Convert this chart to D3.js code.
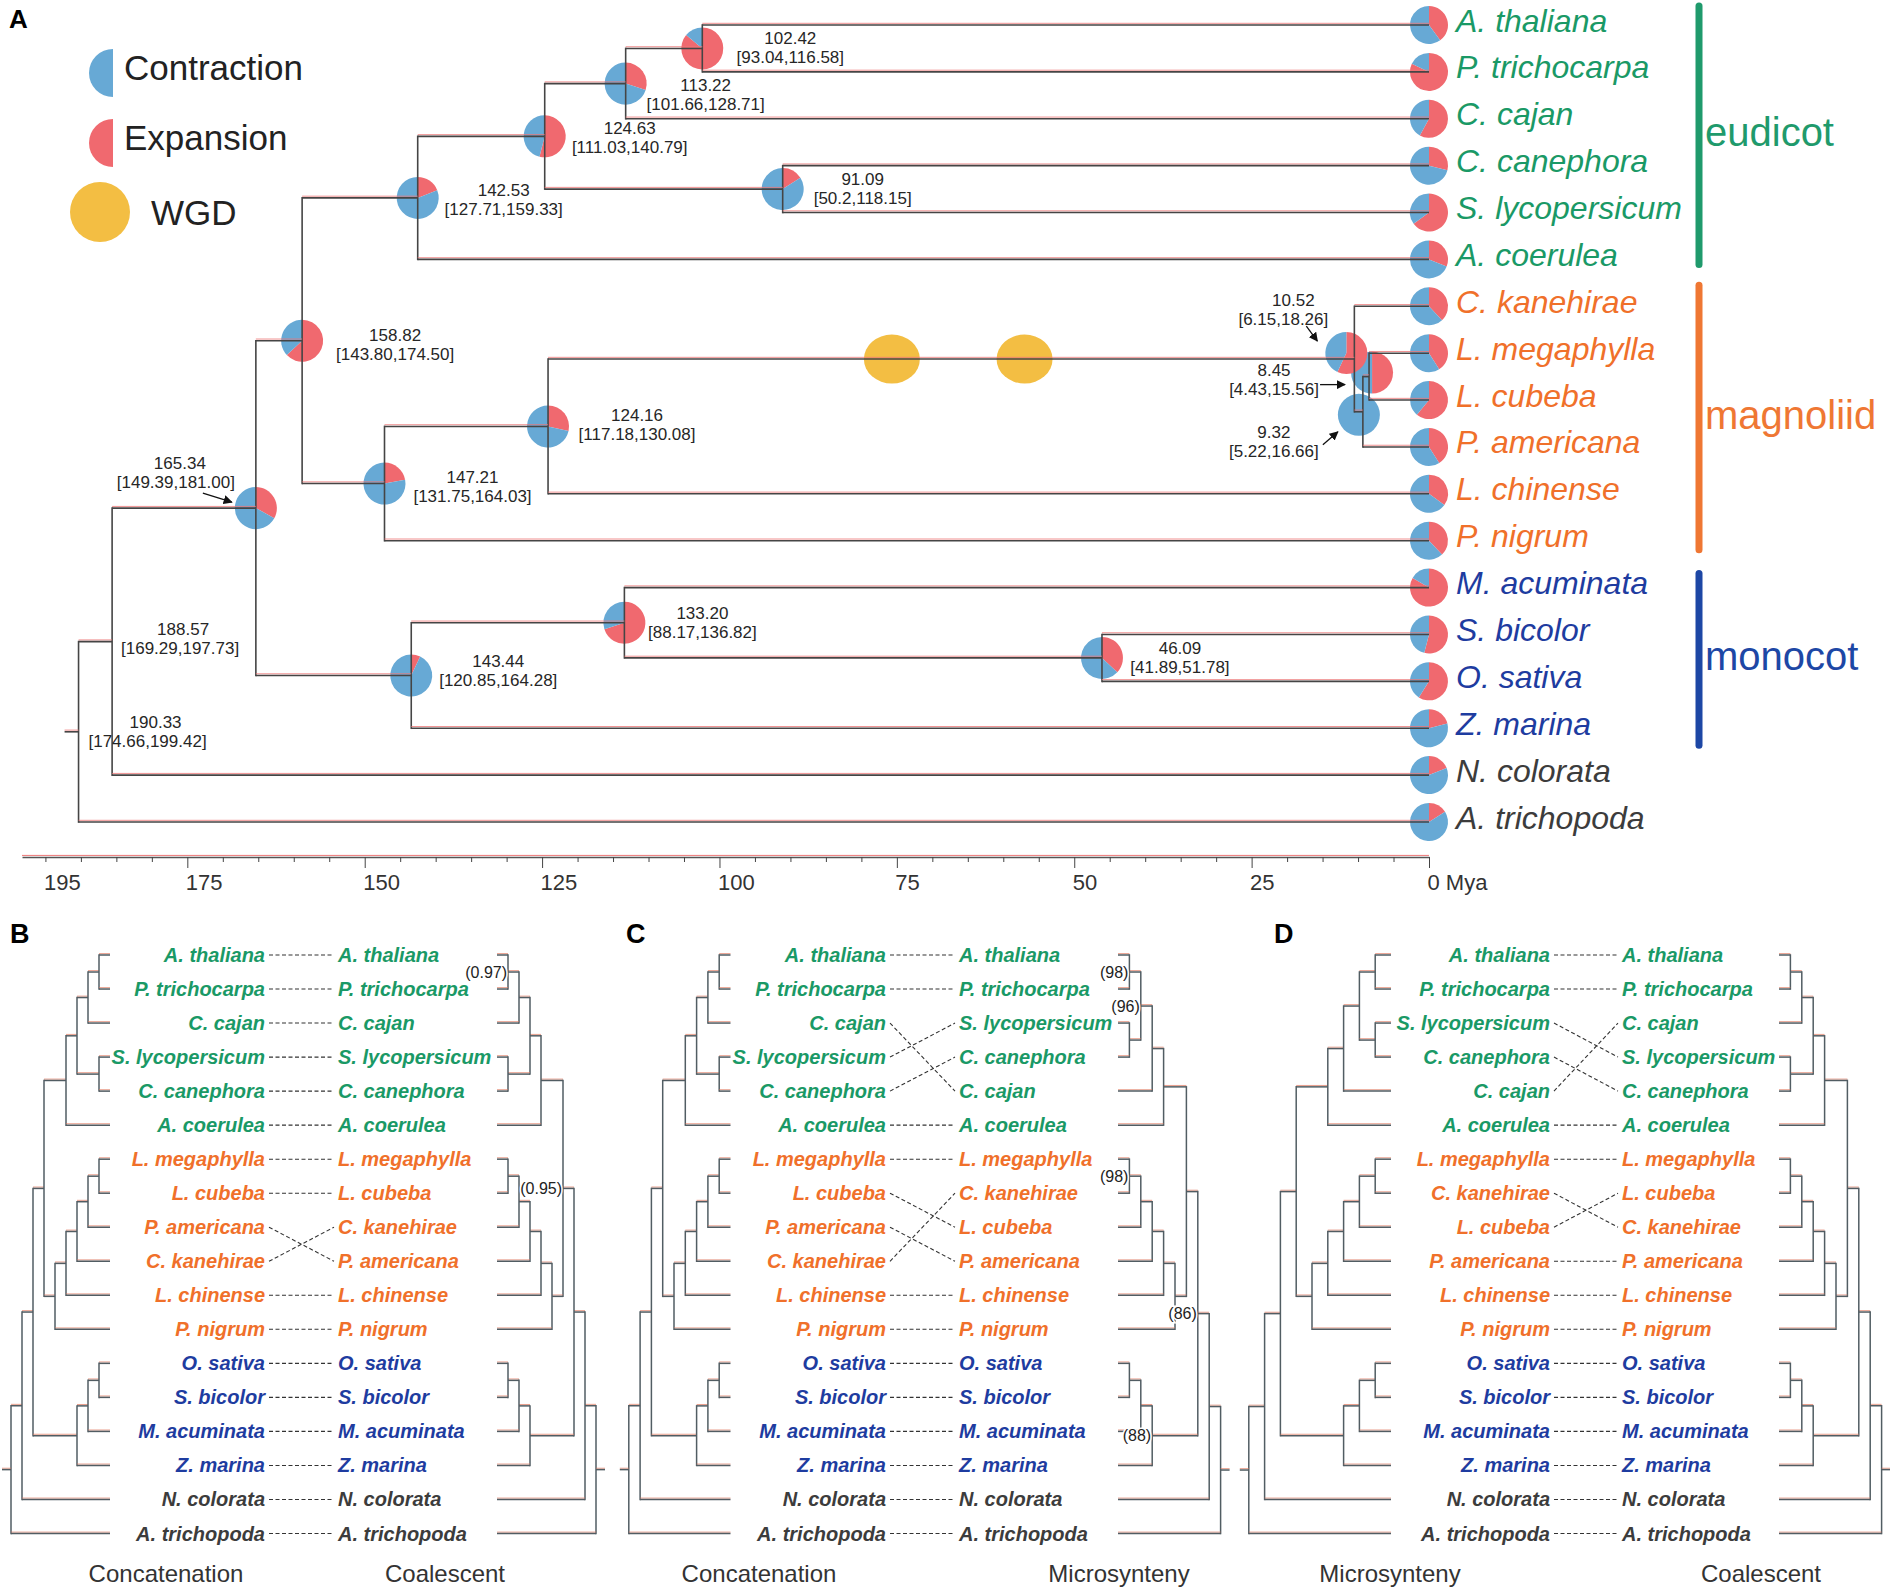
<!DOCTYPE html>
<html>
<head>
<meta charset="utf-8">
<script src="https://cdn.jsdelivr.net/npm/d3@7"></script>
<style>
  body { margin: 0; background: #fff; }
  svg text { font-family: "Liberation Sans", Arial, Helvetica, sans-serif; }
</style>
</head>
<body>
<script>
// ---------- data: panel A (dated tree with contraction / expansion pies) ----------
const speciesA = ['A. thaliana', 'P. trichocarpa', 'C. cajan', 'C. canephora', 'S. lycopersicum', 'A. coerulea',
  'C. kanehirae', 'L. megaphylla', 'L. cubeba', 'P. americana', 'L. chinense', 'P. nigrum',
  'M. acuminata', 'S. bicolor', 'O. sativa', 'Z. marina', 'N. colorata', 'A. trichopoda']
// share of the pie that is expansion (rest is contraction)
const tipExpansion = [0.40, 0.82, 0.58, 0.29, 0.65, 0.31, 0.38, 0.41, 0.61, 0.41, 0.35, 0.38, 0.835, 0.54, 0.59, 0.21, 0.19, 0.16]

const eudicots = ['A. thaliana', 'P. trichocarpa', 'C. cajan', 'C. canephora', 'S. lycopersicum', 'A. coerulea']
const magnoliids = ['C. kanehirae', 'L. megaphylla', 'L. cubeba', 'P. americana', 'L. chinense', 'P. nigrum']
const monocots = ['M. acuminata', 'S. bicolor', 'O. sativa', 'Z. marina']
const cladeNames = ['eudicot', 'magnoliid', 'monocot']

const nodeIds = ['n102', 'n113', 'n091', 'n124a', 'n142', 'n0845', 'n0932', 'n1052', 'n124b', 'n147', 'n158',
  'n046', 'n133', 'n143', 'n165', 'n188', 'n190']
const nodeKids = [
  ['A. thaliana', 'P. trichocarpa'], ['n102', 'C. cajan'], ['C. canephora', 'S. lycopersicum'], ['n113', 'n091'],
  ['n124a', 'A. coerulea'], ['L. megaphylla', 'L. cubeba'], ['n0845', 'P. americana'], ['C. kanehirae', 'n0932'],
  ['n1052', 'L. chinense'], ['n124b', 'P. nigrum'], ['n142', 'n147'], ['S. bicolor', 'O. sativa'],
  ['M. acuminata', 'n046'], ['n133', 'Z. marina'], ['n158', 'n143'], ['n165', 'N. colorata'], ['n188', 'A. trichopoda']
]
// where each node sits on the time axis in the picture (Mya)
const nodeAge = [102.42, 113.22, 91.09, 124.63, 142.53, 8.45, 9.32, 10.52, 124.16, 147.21, 158.82,
  46.09, 113.4, 143.44, 165.34, 185.6, 190.33]
const nodeAgeText = ['102.42', '113.22', '91.09', '124.63', '142.53', '8.45', '9.32', '10.52', '124.16', '147.21', '158.82',
  '46.09', '133.20', '143.44', '165.34', '188.57', '190.33']
const nodeCI = ['[93.04,116.58]', '[101.66,128.71]', '[50.2,118.15]', '[111.03,140.79]', '[127.71,159.33]', '[4.43,15.56]',
  '[5.22,16.66]', '[6.15,18.26]', '[117.18,130.08]', '[131.75,164.03]', '[143.80,174.50]', '[41.89,51.78]',
  '[88.17,136.82]', '[120.85,164.28]', '[149.39,181.00]', '[169.29,197.73]', '[174.66,199.42]']
const nodeExpansion = [0.86, 0.30, 0.16, 0.54, 0.19, 0.50, 0, 0.57, 0.285, 0.22, 0.63, 0.37, 0.70, 0.07, 0.33, null, null]
const rootAge = 192.3
const wgdAges = [75.7, 57.0]
const wgdBranch = 'n1052'
const tickLabels = [195, 175, 150, 125, 100, 75, 50, 25, 0]

// ---------- data: panels B-D (topologies) ----------
const euConcat = [[[['A. thaliana', 'P. trichocarpa'], 'C. cajan'], ['S. lycopersicum', 'C. canephora']], 'A. coerulea']
const euMicro = [[[['A. thaliana', 'P. trichocarpa'], ['S. lycopersicum', 'C. canephora']], 'C. cajan'], 'A. coerulea']
const magConcat = [[[[['L. megaphylla', 'L. cubeba'], 'P. americana'], 'C. kanehirae'], 'L. chinense'], 'P. nigrum']
const magCoal = [[[[['L. megaphylla', 'L. cubeba'], 'C. kanehirae'], 'P. americana'], 'L. chinense'], 'P. nigrum']
const magMicro = [[[[['L. megaphylla', 'C. kanehirae'], 'L. cubeba'], 'P. americana'], 'L. chinense'], 'P. nigrum']
const monoTree = [[['O. sativa', 'S. bicolor'], 'M. acuminata'], 'Z. marina']
const concatTree = [[[[euConcat, magConcat], monoTree], 'N. colorata'], 'A. trichopoda']
const coalTree = [[[[euConcat, magCoal], monoTree], 'N. colorata'], 'A. trichopoda']
const microTree = [[[[euMicro, magMicro], monoTree], 'N. colorata'], 'A. trichopoda']

const coalSupportPairs = [['A. thaliana', 'P. trichocarpa'], ['A. thaliana', 'P. nigrum']]
const coalSupportText = ['(0.97)', '(0.95)']
const microSupportPairs = [['A. thaliana', 'P. trichocarpa'], ['A. thaliana', 'C. canephora'],
  ['L. megaphylla', 'C. kanehirae'], ['A. thaliana', 'Z. marina'], ['O. sativa', 'Z. marina']]
const microSupportText = ['(98)', '(96)', '(98)', '(86)', '(88)']

// ---------- styles ----------
const BLUE = '#67a9d5', RED = '#f0696f', GOLD = '#f3be43'
const textColor = { eudicot: '#1a9966', magnoliid: '#f0702a', monocot: '#1e3ca0', other: '#3c3c3c' }
const barColor = { eudicot: '#1f9a6c', magnoliid: '#ef7733', monocot: '#1d47a5' }
const cladeOf = s => eudicots.includes(s) ? 'eudicot' : magnoliids.includes(s) ? 'magnoliid'
  : monocots.includes(s) ? 'monocot' : 'other'

const svg = d3.select('body').append('svg').attr('width', 1890).attr('height', 1591)

svg.append('defs').append('marker')
  .attr('id', 'arrow').attr('viewBox', '0 0 10 10').attr('refX', 9).attr('refY', 5)
  .attr('markerWidth', 7).attr('markerHeight', 7).attr('orient', 'auto-start-reverse')
  .append('path').attr('d', 'M0,0 L10,5 L0,10 z').attr('fill', '#111')

function hline (g, x1, x2, y, st) {
  if (st.shadow) {
    g.append('line').attr('x1', x1).attr('x2', x2).attr('y1', y - st.off).attr('y2', y - st.off)
      .attr('stroke', st.shadow).attr('stroke-width', 1).attr('opacity', st.shadowOp)
  }
  g.append('line').attr('x1', x1).attr('x2', x2).attr('y1', y).attr('y2', y)
    .attr('stroke', st.color).attr('stroke-width', st.width)
}
function vline (g, x, y1, y2, st) {
  g.append('line').attr('x1', x).attr('x2', x).attr('y1', y1 - st.width / 2).attr('y2', y2 + st.width / 2)
    .attr('stroke', st.color).attr('stroke-width', st.width)
}
const arcGen = d3.arc().innerRadius(0)
function drawPie (g, cx, cy, r, exp) {
  const arcs = d3.pie().sort(null)([exp, 1 - exp])
  g.append('g').attr('transform', `translate(${cx},${cy})`)
    .selectAll('path').data(arcs).join('path')
    .attr('d', d => arcGen.outerRadius(r)(d))
    .attr('fill', (d, i) => i === 0 ? RED : BLUE)
}

// =================== PANEL A ===================
const gA = svg.append('g')
const styleA = { color: '#454545', width: 1.6, shadow: '#ee7777', shadowOp: 0.8, off: 1.7 }
const xA = d3.scaleLinear().domain([0, 198.3]).range([1429, 22])
const rowA = d3.scalePoint().domain(speciesA).range([25, 822])

gA.append('text').text('A').attr('x', 9).attr('y', 28).attr('font-size', 26).attr('font-weight', 'bold')

// legend
const legend = gA.append('g')
const halfDisc = d3.arc().innerRadius(0).outerRadius(24).startAngle(Math.PI).endAngle(2 * Math.PI)
legend.append('path').attr('transform', 'translate(113,73)').attr('d', halfDisc()).attr('fill', BLUE)
legend.append('path').attr('transform', 'translate(113,143)').attr('d', halfDisc()).attr('fill', RED)
legend.append('ellipse').attr('cx', 100).attr('cy', 212).attr('rx', 30).attr('ry', 30).attr('fill', GOLD)
legend.append('text').text('Contraction').attr('x', 124).attr('y', 80).attr('font-size', 35).attr('fill', '#222')
legend.append('text').text('Expansion').attr('x', 124).attr('y', 150).attr('font-size', 35).attr('fill', '#222')
legend.append('text').text('WGD').attr('x', 151).attr('y', 225).attr('font-size', 35).attr('fill', '#222')

// positions
const pos = {}
speciesA.forEach(s => { pos[s] = { x: xA(0), y: rowA(s) } })
nodeIds.forEach((id, i) => {
  pos[id] = { x: xA(nodeAge[i]), y: d3.mean(nodeKids[i], k => pos[k].y) }
})

// WGD marks on the magnoliid stem
gA.selectAll('ellipse.wgd').data(wgdAges).join('ellipse').attr('class', 'wgd')
  .attr('cx', d => xA(d)).attr('cy', pos[wgdBranch].y).attr('rx', 28).attr('ry', 24.5).attr('fill', GOLD)

// pies (internal nodes, then tips)
const pieNudge = { n1052: [-8, -6], n0845: [3, -4], n0932: [-4, 3] }
const pieStack = ['n0932', 'n0845', 'n1052']
nodeIds.filter(id => !pieStack.includes(id)).concat(pieStack).forEach(id => {
  const i = nodeIds.indexOf(id)
  if (nodeExpansion[i] == null) return
  const [dx, dy] = pieNudge[id] || [0, 0]
  drawPie(gA, pos[id].x + dx, pos[id].y + dy, 21, nodeExpansion[i])
})
speciesA.forEach((s, i) => drawPie(gA, pos[s].x, pos[s].y, 19, tipExpansion[i]))

// branches
const gBr = gA.append('g')
nodeIds.forEach((id, i) => {
  const ys = nodeKids[i].map(k => pos[k].y)
  vline(gBr, pos[id].x, d3.min(ys), d3.max(ys), styleA)
  nodeKids[i].forEach(k => hline(gBr, pos[id].x, pos[k].x, pos[k].y, styleA))
})
hline(gBr, xA(rootAge), pos.n190.x, pos.n190.y, styleA)

// node age labels
const labelAt = {
  n102: [88, -10], n113: [80, 1], n091: [80, -10], n124a: [85, -8], n142: [86, -8],
  n0845: [-95, -7], n0932: [-89, 20], n1052: [-61, -59, -10], n124b: [89, -11], n147: [88, -7],
  n158: [93, -6], n046: [78, -10], n133: [78, -10], n143: [87, -14], n165: [-76, -45, -4],
  n188: [71, -13, -3], n190: [77, -10, -8]
}
const arrowAt = {
  n165: [[-53, -15], [-24, -6]],
  n1052: [[-48, -33], [-37, -18]],
  n0845: [[-49, 8], [-24, 8]],
  n0932: [[-40, 33], [-25, 20]]
}
const gLab = gA.append('g').attr('font-size', 17).attr('fill', '#262626').attr('text-anchor', 'middle')
nodeIds.forEach((id, i) => {
  const [dx, dy, cdx] = labelAt[id]
  const p = pos[id]
  gLab.append('text').text(nodeAgeText[i]).attr('x', p.x + dx).attr('y', p.y + dy).attr('dy', '0.35em')
  gLab.append('text').text(nodeCI[i]).attr('x', p.x + dx + (cdx || 0)).attr('y', p.y + dy + 19).attr('dy', '0.35em')
  if (arrowAt[id]) {
    const [[x1, y1], [x2, y2]] = arrowAt[id]
    gA.append('line').attr('x1', p.x + x1).attr('y1', p.y + y1).attr('x2', p.x + x2).attr('y2', p.y + y2)
      .attr('stroke', '#111').attr('stroke-width', 1.3).attr('marker-end', 'url(#arrow)')
  }
})

// species labels
gA.append('g').selectAll('text').data(speciesA).join('text')
  .text(d => d).attr('x', 1456).attr('y', d => rowA(d) + 6.5)
  .attr('font-size', 32).attr('font-style', 'italic').attr('fill', d => textColor[cladeOf(d)])

// clade bars
const cladeMembers = [eudicots, magnoliids, monocots]
const barPad = { eudicot: [-19, 5], magnoliid: [-21, 9], monocot: [-14, 17] }
cladeNames.forEach((c, i) => {
  const ys = cladeMembers[i].map(s => rowA(s))
  const y1 = d3.min(ys) + barPad[c][0], y2 = d3.max(ys) + barPad[c][1]
  gA.append('line').attr('x1', 1699).attr('x2', 1699).attr('y1', y1).attr('y2', y2)
    .attr('stroke', barColor[c]).attr('stroke-width', 7).attr('stroke-linecap', 'round')
  gA.append('text').text(c).attr('x', 1705).attr('y', (y1 + y2) / 2 - 3).attr('dy', '0.35em')
    .attr('font-size', 40).attr('fill', barColor[c])
})

// time axis
const axisY = 857
const gAx = gA.append('g').attr('transform', `translate(0,${axisY})`)
  .call(d3.axisBottom(xA).tickValues(d3.range(0, 200, 5)).tickSize(5).tickSizeOuter(0).tickFormat(''))
gAx.select('.domain').attr('stroke', '#555').attr('stroke-width', 1.4)
gAx.selectAll('.tick line').attr('stroke', '#444').attr('y2', d => d % 25 === 0 ? 11 : 5)
gAx.append('line').attr('x1', xA.range()[1]).attr('x2', xA.range()[0]).attr('y1', -1.6).attr('y2', -1.6)
  .attr('stroke', '#ee7777').attr('stroke-width', 1)
gAx.selectAll('.tick').filter(d => tickLabels.includes(d)).append('text')
  .text(d => d === 0 ? '0 Mya' : d).attr('x', -2).attr('y', 33)
  .attr('text-anchor', 'start').attr('fill', '#333').attr('font-size', 22)

// =================== PANELS B-D ===================
const rowB = d3.scaleLinear().domain([0, 17]).range([955, 1533.5])
const styleB = { color: '#515d63', width: 1.5, shadow: '#e0785e', shadowOp: 0.7, off: 1.4 }

function lca (root, a, b) {
  const leaves = root.leaves()
  const la = leaves.find(l => l.data === a), lb = leaves.find(l => l.data === b)
  const anc = new Set(la.ancestors())
  return lb.ancestors().find(n => anc.has(n))
}

function drawTree (g, nested, tipX, dir, step, pairs, texts) {
  const root = d3.hierarchy(nested, d => Array.isArray(d) ? d : null)
  const xH = d3.scaleLinear().domain([0, root.height]).range([tipX, tipX + dir * step * root.height])
  root.leaves().forEach((lf, i) => { lf.py = rowB(i) })
  root.eachAfter(n => {
    n.px = xH(n.height)
    if (n.children) n.py = d3.mean(n.children, c => c.py)
  })
  root.each(n => {
    if (!n.children) return
    vline(g, n.px, d3.min(n.children, c => c.py), d3.max(n.children, c => c.py), styleB)
    n.children.forEach(c => hline(g, n.px, c.px, c.py, styleB))
  })
  hline(g, root.px, root.px + dir * 9, root.py, styleB)
  if (pairs) {
    pairs.forEach((pr, i) => {
      const n = lca(root, pr[0], pr[1])
      g.append('text').text(texts[i]).attr('x', n.px - 1).attr('y', n.py).attr('dy', '0.35em')
        .attr('text-anchor', 'end').attr('font-size', 16).attr('fill', '#222')
        .attr('stroke', '#fff').attr('stroke-width', 3).attr('paint-order', 'stroke')
    })
  }
  return root.leaves().map(l => l.data)
}

const panels = [
  { letter: 'B', lx: 10, left: concatTree, right: coalTree, lTip: 110, lStep: 11, lEnd: 265, rStart: 338,
    rTip: 497, rStep: 11, lTitle: 'Concatenation', lTitleX: 166, rTitle: 'Coalescent', rTitleX: 445,
    pairs: coalSupportPairs, texts: coalSupportText },
  { letter: 'C', lx: 626, left: concatTree, right: microTree, lTip: 730.5, lStep: 11.3, lEnd: 886, rStart: 959,
    rTip: 1118, rStep: 11.4, lTitle: 'Concatenation', lTitleX: 759, rTitle: 'Microsynteny', rTitleX: 1119,
    pairs: microSupportPairs, texts: microSupportText },
  { letter: 'D', lx: 1274, left: microTree, right: coalTree, lTip: 1391, lStep: 15.8, lEnd: 1550, rStart: 1622,
    rTip: 1779, rStep: 11.4, lTitle: 'Microsynteny', lTitleX: 1390, rTitle: 'Coalescent', rTitleX: 1761,
    pairs: null, texts: null }
]

panels.forEach(P => {
  const g = svg.append('g')
  g.append('text').text(P.letter).attr('x', P.lx).attr('y', 943).attr('font-size', 27).attr('font-weight', 'bold')
  const leftOrder = drawTree(g, P.left, P.lTip, -1, P.lStep, null, null)
  const rightOrder = drawTree(g, P.right, P.rTip, 1, P.rStep, P.pairs, P.texts)

  // dashed connectors
  g.append('g').selectAll('line').data(leftOrder).join('line')
    .attr('x1', P.lEnd + 4).attr('y1', (d, i) => rowB(i))
    .attr('x2', P.rStart - 4).attr('y2', d => rowB(rightOrder.indexOf(d)))
    .attr('stroke', '#333').attr('stroke-width', 1.1).attr('stroke-dasharray', '4,2.5')

  const lab = g.append('g').attr('font-size', 20).attr('font-weight', 'bold').attr('font-style', 'italic')
  lab.selectAll('text.l').data(leftOrder).join('text').attr('class', 'l')
    .text(d => d).attr('x', P.lEnd).attr('y', (d, i) => rowB(i)).attr('dy', '0.35em')
    .attr('text-anchor', 'end').attr('fill', d => textColor[cladeOf(d)])
  lab.selectAll('text.r').data(rightOrder).join('text').attr('class', 'r')
    .text(d => d).attr('x', P.rStart).attr('y', (d, i) => rowB(i)).attr('dy', '0.35em')
    .attr('text-anchor', 'start').attr('fill', d => textColor[cladeOf(d)])

  g.append('text').text(P.lTitle).attr('x', P.lTitleX).attr('y', 1582).attr('text-anchor', 'middle')
    .attr('font-size', 24).attr('fill', '#333')
  g.append('text').text(P.rTitle).attr('x', P.rTitleX).attr('y', 1582).attr('text-anchor', 'middle')
    .attr('font-size', 24).attr('fill', '#333')
})
</script>
</body>
</html>
